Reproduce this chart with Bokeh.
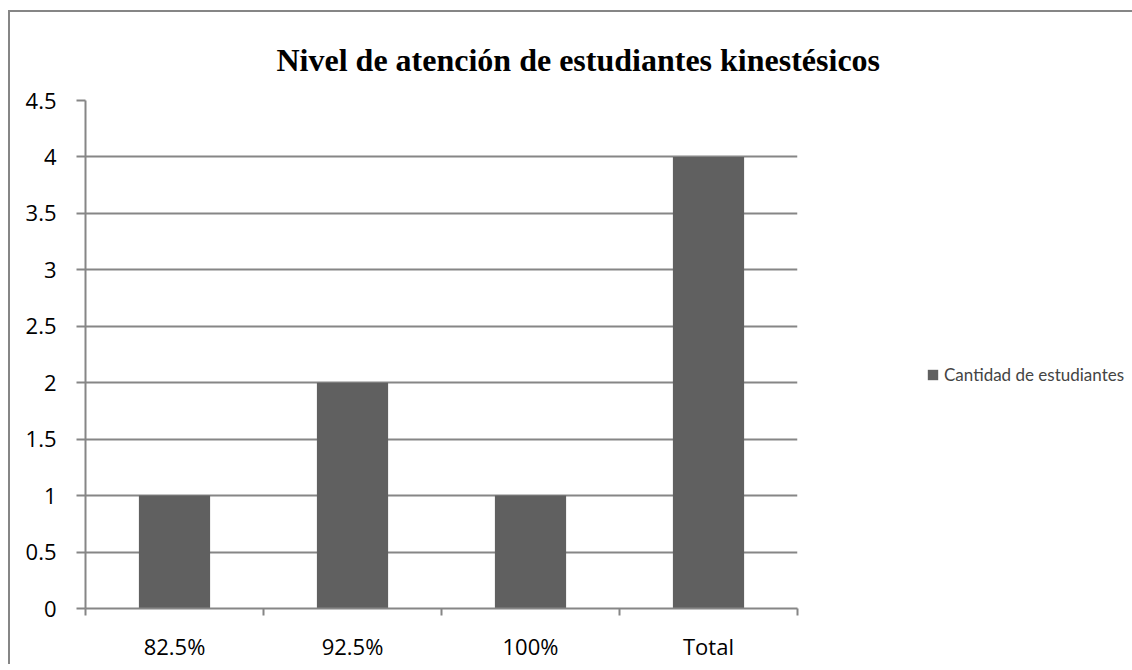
from bokeh.plotting import figure
from bokeh.models import FixedTicker, NumeralTickFormatter, Legend, LegendItem, Range1d, ColumnDataSource, Title
from bokeh.embed import file_html
from bokeh.resources import INLINE

categories = ["82.5%", "92.5%", "100%", "Total"]
values = [1, 2, 1, 4]
series_name = "Cantidad de estudiantes"
title_text = "Nivel de atención de estudiantes kinestésicos"
y_ticks = [0, 0.5, 1, 1.5, 2, 2.5, 3, 3.5, 4, 4.5]

positions = [i + 0.5 for i in range(len(categories))]
boundaries = [float(i) for i in range(len(categories) + 1)]

GREY = "#868686"
BAR = "#606060"
FONT = "Open Sans"

p = figure(
    frame_width=712, frame_height=508,
    min_border_left=75, min_border_top=88, min_border_right=330, min_border_bottom=56,
    output_backend="svg", toolbar_location=None,
    x_range=Range1d(0, len(categories)), y_range=Range1d(0, 4.5),
)
p.styles = {"border-left": f"2px solid {GREY}", "border-top": f"2px solid {GREY}",
            "margin-left": "8px", "margin-top": "10px"}
p.outline_line_color = None
p.background_fill_color = "white"

src = ColumnDataSource(dict(x=positions, top=values))
r = p.vbar(x="x", top="top", width=0.4, source=src, fill_color=BAR, line_color=None)

# Title
t = Title(text=title_text, align="left", offset=191, text_font="Liberation Serif",
          text_font_size="32px", text_font_style="bold", text_color="black", standoff=45)
p.title = t

# X axis
xa = p.xaxis[0]
xa.ticker = FixedTicker(ticks=positions, minor_ticks=boundaries)
xa.major_label_overrides = {pos: c for pos, c in zip(positions, categories)}
xa.major_tick_out = 0
xa.major_tick_in = 0
xa.minor_tick_out = 7
xa.minor_tick_in = 0
xa.minor_tick_line_color = GREY
xa.axis_line_color = GREY
xa.axis_line_width = 2
xa.minor_tick_line_width = 2
xa.major_label_standoff = 15
xa.major_label_text_font = FONT
xa.major_label_text_font_size = "22px"
xa.major_label_text_color = "black"

# Y axis
ya = p.yaxis[0]
ya.ticker = FixedTicker(ticks=y_ticks)
ya.formatter = NumeralTickFormatter(format="0.[0]")
ya.major_tick_out = 9
ya.major_tick_in = 0
ya.minor_tick_line_color = None
ya.major_tick_line_color = GREY
ya.major_tick_line_width = 2
ya.axis_line_color = GREY
ya.axis_line_width = 2
ya.major_label_standoff = 20
ya.major_label_text_font = FONT
ya.major_label_text_font_size = "22px"
ya.major_label_text_color = "black"

p.xgrid.grid_line_color = None
p.ygrid.grid_line_color = GREY
p.ygrid.grid_line_width = 2

legend = Legend(items=[LegendItem(label=series_name, renderers=[r])],
                location=(129, 223), orientation="vertical",
                glyph_width=13, glyph_height=13, label_standoff=5,
                label_text_font="Lato", label_text_font_size="17px",
                label_height=13, padding=0, margin=0, spacing=0,
                border_line_color=None, background_fill_alpha=0)
p.add_layout(legend, "right")

open("out.html", "w").write(file_html(p, INLINE))
